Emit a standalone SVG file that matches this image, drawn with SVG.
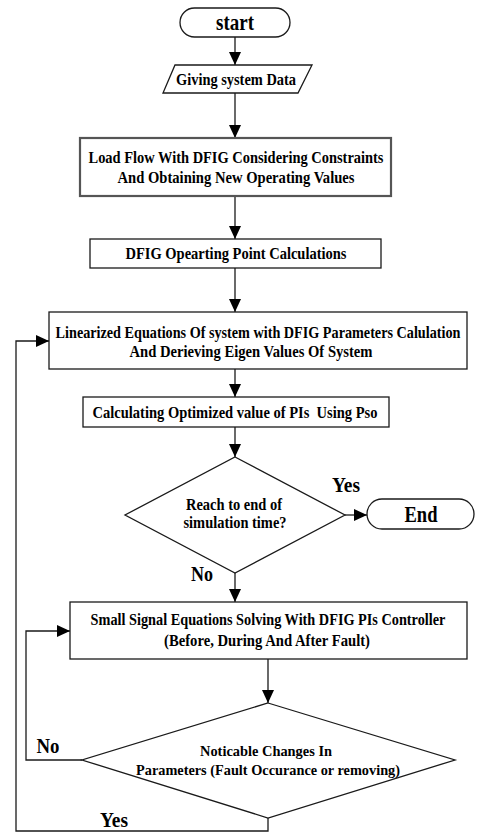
<svg xmlns="http://www.w3.org/2000/svg" width="477" height="834" viewBox="0 0 477 834">
  <style>
    .shape { fill: #ffffff; stroke: #1a1a1a; stroke-width: 1.3; }
    .thick { stroke: #555555; stroke-width: 2.2; }
    .t { font-family: "Liberation Serif", "Times New Roman", serif; font-weight: bold; fill: #000000; text-anchor: middle; }
    .box { font-size: 17px; }
    .dec { font-size: 16px; }
    .small { font-size: 15px; }
    .lbl { font-size: 22px; }
    .term { font-size: 23px; }
    .wire { fill: none; stroke: #1a1a1a; stroke-width: 1.3; }
  </style>
  <defs>
    <marker id="arrow" markerUnits="userSpaceOnUse" markerWidth="13" markerHeight="12" refX="13" refY="6" orient="auto">
      <path d="M0,0 L13,6 L0,12 Z" fill="#000000"/>
    </marker>
  </defs>
  <rect width="477" height="834" fill="#ffffff"/>

  <!-- connectors -->
  <g id="connectors">
    <path class="wire" d="M235,37 V65" marker-end="url(#arrow)"/>
    <path class="wire" d="M235,93 V138" marker-end="url(#arrow)"/>
    <path class="wire" d="M235,196 V239" marker-end="url(#arrow)"/>
    <path class="wire" d="M235,268 V312" marker-end="url(#arrow)"/>
    <path class="wire" d="M235,369 V397" marker-end="url(#arrow)"/>
    <path class="wire" d="M235,427 V457" marker-end="url(#arrow)"/>
    <path class="wire" d="M345,515 H367" marker-end="url(#arrow)"/>
    <path class="wire" d="M235,573 V602" marker-end="url(#arrow)"/>
    <path class="wire" d="M268,659 V703" marker-end="url(#arrow)"/>
    <path class="wire" d="M82,760 H26 V631 H70" marker-end="url(#arrow)"/>
    <path class="wire" d="M268,818 V831 H16 V341 H49" marker-end="url(#arrow)"/>
    <text class="t lbl" x="346" y="492" textLength="28" lengthAdjust="spacingAndGlyphs">Yes</text>
    <text class="t lbl" x="202" y="581" textLength="22" lengthAdjust="spacingAndGlyphs">No</text>
    <text class="t lbl" x="48" y="753" textLength="23" lengthAdjust="spacingAndGlyphs">No</text>
    <text class="t lbl" x="114" y="827" textLength="28" lengthAdjust="spacingAndGlyphs">Yes</text>
  </g>

  <g id="start">
    <rect class="shape" x="180" y="8" width="110" height="29" rx="14.5"/>
    <text class="t term" x="235" y="30" textLength="38" lengthAdjust="spacingAndGlyphs">start</text>
  </g>

  <g id="input-data">
    <polygon class="shape" points="175,65 312,65 298,93 163,93"/>
    <text class="t box" x="236" y="85" textLength="120" lengthAdjust="spacingAndGlyphs">Giving system Data</text>
  </g>

  <g id="load-flow">
    <rect class="shape thick" x="80" y="138" width="311" height="58"/>
    <text class="t box" x="236" y="163" textLength="295" lengthAdjust="spacingAndGlyphs">Load Flow With DFIG Considering Constraints</text>
    <text class="t box" x="236" y="183" textLength="237" lengthAdjust="spacingAndGlyphs">And Obtaining New Operating Values</text>
  </g>

  <g id="operating-point">
    <rect class="shape" x="90" y="239" width="291" height="29"/>
    <text class="t box" x="236" y="259" textLength="221" lengthAdjust="spacingAndGlyphs">DFIG Opearting Point Calculations</text>
  </g>

  <g id="linearized">
    <rect class="shape" x="49" y="312" width="418" height="57"/>
    <!-- long line: narrowed with a horizontal scale so it sits inside the box -->
    <text class="t box" transform="translate(258 338) scale(0.835 1)" x="0" y="0">Linearized Equations Of system with DFIG Parameters Calulation</text>
    <text class="t box" x="251" y="357" textLength="243" lengthAdjust="spacingAndGlyphs">And Derieving Eigen Values Of System</text>
  </g>

  <g id="pso">
    <rect class="shape" x="83" y="397" width="306" height="30"/>
    <text class="t box" x="235" y="418" textLength="285" lengthAdjust="spacingAndGlyphs" xml:space="preserve">Calculating Optimized value of PIs  Using Pso</text>
  </g>

  <g id="end-check">
    <polygon class="shape" points="235,457 345,515 235,573 125,515"/>
    <text class="t dec" x="234" y="510" textLength="96" lengthAdjust="spacingAndGlyphs">Reach to end of</text>
    <text class="t dec" x="235" y="528" textLength="103" lengthAdjust="spacingAndGlyphs">simulation time?</text>
  </g>

  <g id="end">
    <rect class="shape" x="367" y="499" width="107" height="30" rx="15"/>
    <text class="t term" x="421" y="522" textLength="33" lengthAdjust="spacingAndGlyphs">End</text>
  </g>

  <g id="small-signal">
    <rect class="shape" x="70" y="602" width="397" height="57"/>
    <text class="t box" transform="translate(268 625) scale(0.84 1)" x="0" y="0">Small Signal Equations Solving With DFIG PIs Controller</text>
    <text class="t box" x="267" y="646" textLength="206" lengthAdjust="spacingAndGlyphs">(Before, During And After Fault)</text>
  </g>

  <g id="change-check">
    <polygon class="shape" points="268,703 455,760 268,818 82,760"/>
    <text class="t small" x="266" y="756" textLength="132" lengthAdjust="spacingAndGlyphs">Noticable Changes In</text>
    <text class="t small" x="268" y="775" textLength="264" lengthAdjust="spacingAndGlyphs">Parameters (Fault Occurance or removing)</text>
  </g>
</svg>
